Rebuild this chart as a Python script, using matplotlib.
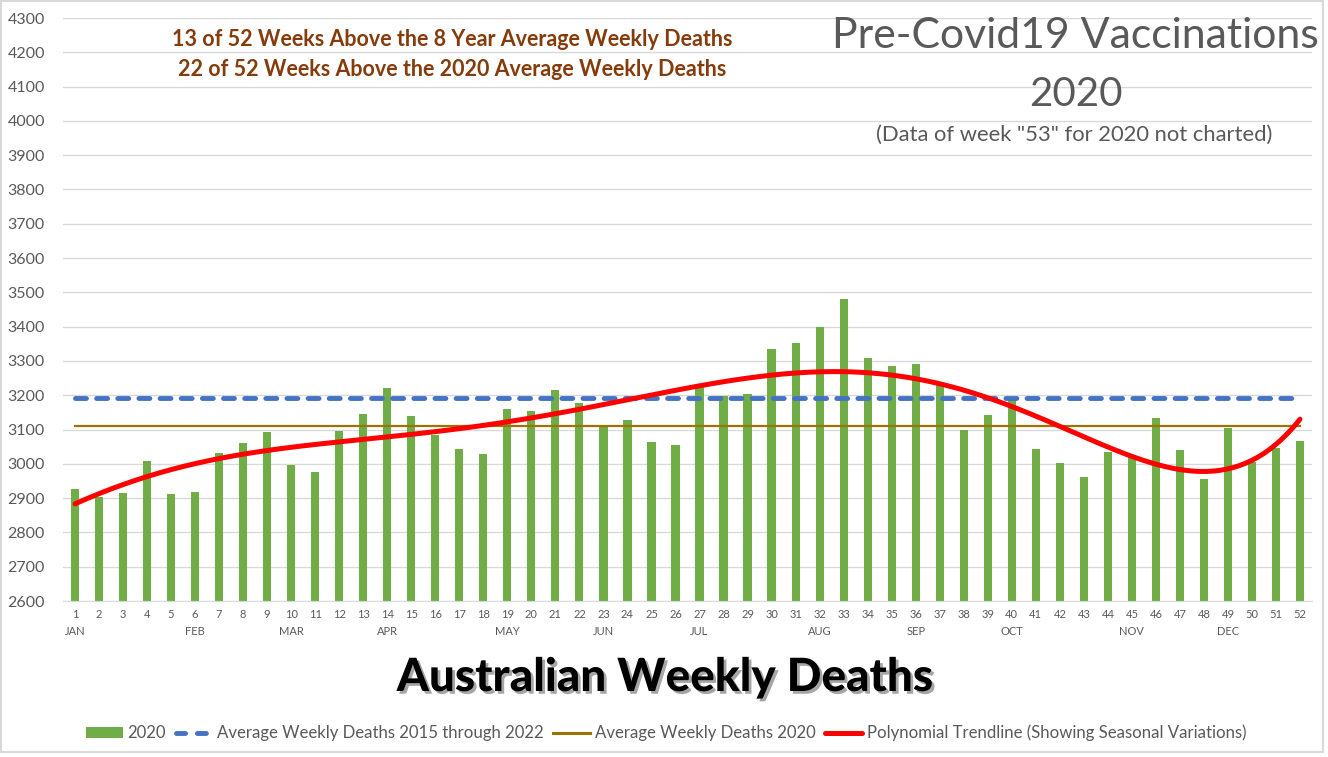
import numpy as np
import matplotlib
matplotlib.use("Agg")
import matplotlib.pyplot as plt
from matplotlib.lines import Line2D
from matplotlib.patches import Patch, Rectangle
import matplotlib.patheffects as pe

weeks = list(range(1, 53))
deaths_2020 = [2928, 2903, 2914, 3008, 2911, 2917, 3031, 3061, 3093, 2996,
               2975, 3096, 3146, 3220, 3140, 3084, 3044, 3030, 3161, 3153,
               3214, 3176, 3112, 3129, 3065, 3056, 3225, 3199, 3205, 3334,
               3351, 3398, 3480, 3310, 3284, 3291, 3232, 3098, 3142, 3185,
               3043, 3002, 2961, 3034, 3023, 3134, 3040, 2955, 3105, 3006,
               3046, 3066]
avg_2015_2022 = 3191
avg_2020 = 3109
month_labels = {1: "JAN", 6: "FEB", 10: "MAR", 14: "APR", 19: "MAY", 23: "JUN",
                27: "JUL", 32: "AUG", 36: "SEP", 40: "OCT", 45: "NOV", 49: "DEC"}
y_ticks = list(range(2600, 4301, 100))

plt.rcParams['font.family'] = ['Lato', 'DejaVu Sans']

W, H = 1328, 757
fig = plt.figure(figsize=(W / 100, H / 100), dpi=100)
ax = fig.add_axes([63 / W, 1 - 601 / H, (1312 - 63) / W, (601 - 18) / H])

gray_txt = '#595959'
green = '#70AD47'
blue = '#4472C4'
gold = '#9C7300'
red = '#FF0000'

ax.bar(weeks, [d - 2600 for d in deaths_2020], bottom=2600, width=0.34,
       color=green, zorder=2)
ax.plot([1, 52], [avg_2015_2022, avg_2015_2022], color=blue, lw=3.5,
        dashes=(2.25, 2.1), dash_capstyle='round', zorder=3)
ax.plot([1, 52], [avg_2020, avg_2020], color=gold, lw=1.6, zorder=3)

coef = np.polyfit(weeks, deaths_2020, 6)
xs = np.linspace(1, 52, 400)
ax.plot(xs, np.polyval(coef, xs), color=red, lw=3.6, solid_capstyle='round',
        zorder=4)

ax.set_xlim(0.5, 52.5)
ax.set_ylim(2600, 4300)
ax.set_yticks(y_ticks)
ax.set_yticklabels([str(v) for v in y_ticks], fontsize=11.5, color=gray_txt)
ax.set_xticks(weeks)
ax.set_xticklabels([str(w) for w in weeks], fontsize=8, color=gray_txt)
ax.tick_params(axis='both', length=0)
ax.tick_params(axis='x', pad=6)
ax.tick_params(axis='y', pad=13)
ax.grid(axis='y', color='#D9D9D9', lw=1, zorder=0)
for s in ['top', 'right', 'left']:
    ax.spines[s].set_visible(False)
ax.spines['bottom'].set_color('#D9D9D9')
ax.set_axisbelow(True)

for wk, m in month_labels.items():
    ax.text(wk, -0.052, m, transform=ax.get_xaxis_transform(), ha='center',
            va='center', fontsize=8, color=gray_txt)

brown = '#843C0C'
fig.text(452 / W, 1 - 40 / H, "13 of 52 Weeks Above the 8 Year Average Weekly Deaths",
         ha='center', va='center', fontsize=15.5, fontweight='bold', color=brown)
fig.text(452 / W, 1 - 69 / H, "22 of 52 Weeks Above the 2020 Average Weekly Deaths",
         ha='center', va='center', fontsize=15.5, fontweight='bold', color=brown)

fig.text(1075 / W, 1 - 36 / H, "Pre-Covid19 Vaccinations", ha='center', va='center',
         fontsize=30.8, color=gray_txt)
fig.text(1076 / W, 1 - 94 / H, "2020", ha='center', va='center',
         fontsize=29, color=gray_txt)
fig.text(1074 / W, 1 - 135 / H, '(Data of week "53" for 2020 not charted)',
         ha='center', va='center', fontsize=15.8, color=gray_txt)

fig.text(665 / W, 1 - 678 / H, "Australian Weekly Deaths", ha='center', va='center',
         fontsize=33, fontweight='black', color='black',
         path_effects=[pe.withSimplePatchShadow(offset=(2, -2), shadow_rgbFace='#808080',
                                                alpha=0.7)])

handles = [
    Patch(facecolor=green, edgecolor='none'),
    Line2D([0], [0], color=blue, lw=3.5, dashes=(1.86, 2.43), dash_capstyle='round'),
    Line2D([0], [0], color=gold, lw=2.2),
    Line2D([0], [0], color=red, lw=3.6, solid_capstyle='round'),
]
labels = ["2020", "Average Weekly Deaths 2015 through 2022",
          "Average Weekly Deaths 2020",
          "Polynomial Trendline (Showing Seasonal Variations)"]
leg = fig.legend(handles, labels, loc='center', bbox_to_anchor=(666 / W, 1 - 733 / H),
                 ncol=4, frameon=False, fontsize=12.1, handlelength=2.2,
                 handletextpad=0.25, columnspacing=0.6, handleheight=0.6)
for t in leg.get_texts():
    t.set_color(gray_txt)

fig.add_artist(Rectangle((1 / W, 5 / H), 1322 / W, 1 - 6 / H, transform=fig.transFigure,
                         fill=False, edgecolor='#D9D9D9', lw=1.5))

fig.savefig("out.png", dpi=100)
